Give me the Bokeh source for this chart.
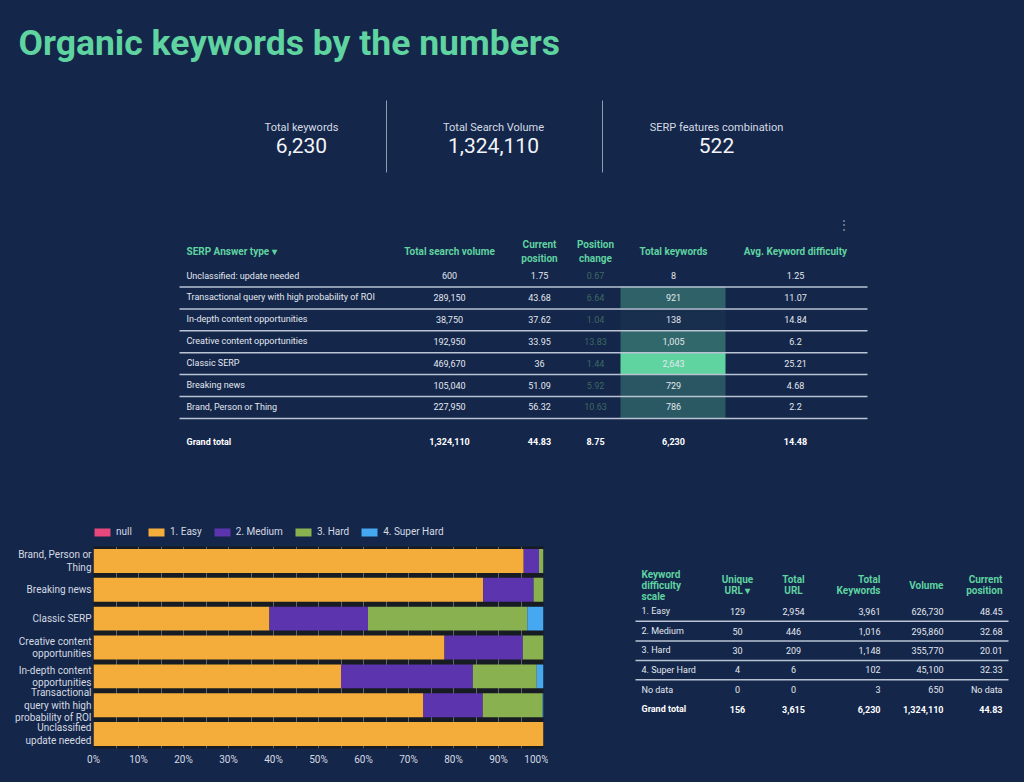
from bokeh.plotting import figure
from bokeh.layouts import column, row
from bokeh.models import (Range1d, ColumnDataSource, FactorRange, Legend, LegendItem,
                          FixedTicker, PrintfTickFormatter, GlobalInlineStyleSheet)
from bokeh.core.properties import value
from bokeh.embed import file_html
from bokeh.resources import INLINE

# ---------------- data ----------------
title_text = "Organic keywords by the numbers"

kpi_labels = ["Total keywords", "Total Search Volume", "SERP features combination"]
kpi_values = [6230, 1324110, 522]

serp_header = ["SERP Answer type \u25be", "Total search volume", "Current\nposition",
               "Position\nchange", "Total keywords", "Avg. Keyword difficulty"]
serp_types = ["Unclassified: update needed",
              "Transactional query with high probability of ROI",
              "In-depth content opportunities",
              "Creative content opportunities",
              "Classic SERP",
              "Breaking news",
              "Brand, Person or Thing"]
search_volume = [600, 289150, 38750, 192950, 469670, 105040, 227950]
current_position = [1.75, 43.68, 37.62, 33.95, 36.0, 51.09, 56.32]
position_change = [0.67, 6.64, 1.04, 13.83, 1.44, 5.92, 10.63]
total_keywords = [8, 921, 138, 1005, 2643, 729, 786]
avg_kd = [1.25, 11.07, 14.84, 6.2, 25.21, 4.68, 2.2]
serp_grand_total = ["Grand total", 1324110, 44.83, 8.75, 6230, 14.48]

bar_categories = ["Brand, Person or\nThing", "Breaking news", "Classic SERP",
                  "Creative content\nopportunities", "In-depth content\nopportunities",
                  "Transactional\nquery with high\nprobability of ROI",
                  "Unclassified\nupdate needed"]
series_names = ["null", "1. Easy", "2. Medium", "3. Hard", "4. Super Hard"]
share_null = [0, 0, 0, 0, 0, 0, 0]
share_easy = [95.6, 86.6, 39.1, 78.0, 55.0, 73.3, 100.0]
share_medium = [3.4, 11.2, 21.9, 17.4, 29.3, 13.2, 0.0]
share_hard = [1.0, 2.2, 35.4, 4.6, 14.2, 13.3, 0.0]
share_super_hard = [0.0, 0.0, 3.6, 0.0, 1.5, 0.2, 0.0]
x_ticks = [0, 10, 20, 30, 40, 50, 60, 70, 80, 90, 100]

kd_header = ["Keyword\ndifficulty\nscale", "Unique\nURL \u25be", "Total\nURL",
             "Total\nKeywords", "Volume", "Current\nposition"]
kd_scale = ["1. Easy", "2. Medium", "3. Hard", "4. Super Hard", "No data"]
unique_url = [129, 50, 30, 4, 0]
total_url = [2954, 446, 209, 6, 0]
kd_keywords = [3961, 1016, 1148, 102, 3]
kd_volume = [626730, 295860, 355770, 45100, 650]
kd_position = [48.45, 32.68, 20.01, 32.33, None]
kd_grand_total = ["Grand total", 156, 3615, 6230, 1324110, 44.83]

# ---------------- style ----------------
BG = "#14264a"
MINT = "#5fd3a0"
TXT = "#e3e8ef"
DIM = "#3d6a60"
SEP = "#b9c3d3"
FONT = "Roboto"
BAR_COLORS = ["#e5497c", "#f4ac3b", "#5c35ae", "#8ab14f", "#45a8f0"]


def fmt(v):
    if v is None:
        return "No data"
    if isinstance(v, str):
        return v
    if isinstance(v, int):
        return f"{v:,}"
    return f"{v:,.2f}".rstrip("0").rstrip(".")


def put(fig, xs, ys, texts, size, color, align="left", bold=False, lh=1.2):
    src = ColumnDataSource(dict(x=xs, y=ys, t=[fmt(t) for t in texts]))
    fig.text("x", "y", text="t", source=src, text_font=value(FONT),
             text_font_size=f"{size}px", text_color=color, text_align=align,
             text_baseline="middle", text_font_style="bold" if bold else "normal",
             text_line_height=lh)


def canvas(w, h, x0, y0):
    f = figure(width=w, height=h, x_range=Range1d(x0, x0 + w), y_range=Range1d(y0 + h, y0),
               output_backend="svg", toolbar_location=None, min_border=0, title=None,
               x_axis_location=None, y_axis_location=None)
    f.grid.visible = False
    f.background_fill_color = BG
    f.border_fill_color = BG
    f.outline_line_color = None
    return f


def mix(c1, c2, t):
    a = [int(c1[i:i + 2], 16) for i in (1, 3, 5)]
    b = [int(c2[i:i + 2], 16) for i in (1, 3, 5)]
    return "#" + "".join(f"{round(x + (y - x) * t):02x}" for x, y in zip(a, b))


TOP_H = 541

# ---------------- top part ----------------
top = canvas(1024, TOP_H, 0, 0)
put(top, [18], [42], [title_text], 35.5, MINT, bold=True)

kpi_x = [301, 493, 716]
put(top, kpi_x, [127] * 3, kpi_labels, 11, "#d6dce5", align="center")
put(top, kpi_x, [145] * 3, kpi_values, 21, "#f2f4f7", align="center")
top.segment(x0=[386, 602], y0=[100, 100], x1=[386, 602], y1=[172, 172],
            line_color="#8f9bb0", line_width=1)

n = len(serp_types)
row_y = [275 + i * 21.9 for i in range(n)]
kmax = max(total_keywords)
heat = [mix(BG, MINT, k / kmax) for k in total_keywords]
top.quad(left=[620] * n, right=[725] * n, top=[y - 11 for y in row_y],
         bottom=[y + 11 for y in row_y], fill_color=heat, line_color=None)
top.segment(x0=[179] * n, y0=[y + 11.5 for y in row_y], x1=[867] * n,
            y1=[y + 11.5 for y in row_y], line_color=SEP, line_width=1.5)

col_x = [186, 449, 539, 595, 673, 795]
put(top, [col_x[0]], [251], [serp_header[0]], 10, MINT, bold=True)
put(top, col_x[1:], [251] * 5, serp_header[1:], 10, MINT, align="center", bold=True)
put(top, [186] * n, row_y, serp_types, 9, TXT)
put(top, [col_x[1]] * n, row_y, search_volume, 9, TXT, align="center")
put(top, [col_x[2]] * n, row_y, current_position, 9, TXT, align="center")
put(top, [col_x[3]] * n, row_y, position_change, 9, DIM, align="center")
put(top, [col_x[4]] * n, row_y, total_keywords, 9, TXT, align="center")
put(top, [col_x[5]] * n, row_y, avg_kd, 9, TXT, align="center")
put(top, [col_x[0]], [441], serp_grand_total[:1], 9, "#ffffff", bold=True)
put(top, col_x[1:], [441] * 5, serp_grand_total[1:], 9, "#ffffff", align="center", bold=True)
put(top, [843], [224], ["\u22ee"], 12, "#8c97a8", align="center")

# legend of the bar chart (sits just above the chart, inside the top canvas);
# its swatches come from zero-size helper glyphs in the series colours
swatches = [top.rect(x=[0], y=[0], width=0, height=0, fill_color=c, line_color=None)
            for c in BAR_COLORS]
legend = Legend(items=[LegendItem(label=nm, renderers=[r]) for nm, r in zip(series_names, swatches)],
                orientation="horizontal", location=(92, 4), glyph_width=20, glyph_height=10,
                label_standoff=4, spacing=10, padding=0, margin=0,
                label_text_font=FONT, label_text_font_size="10px", label_text_color="#d5dae2",
                background_fill_alpha=0, border_line_color=None)
top.add_layout(legend)

# ---------------- stacked bar chart ----------------
src = ColumnDataSource(dict(cat=bar_categories, null=share_null, easy=share_easy,
                            medium=share_medium, hard=share_hard, superhard=share_super_hard))
bar = figure(width=548, height=226, y_range=FactorRange(*bar_categories[::-1]),
             x_range=Range1d(0, 100), output_backend="svg", toolbar_location=None,
             title=None, min_border_left=93)
bar.background_fill_color = "#171b22"
bar.border_fill_color = BG
bar.outline_line_color = None
bar.hbar_stack(["null", "easy", "medium", "hard", "superhard"], y="cat", height=0.83,
               color=BAR_COLORS, source=src, line_color=None)
bar.xgrid.ticker = FixedTicker(ticks=list(range(0, 101, 5)))
bar.xgrid.grid_line_color = "#5d6572"
bar.ygrid.grid_line_color = None
bar.xaxis.ticker = FixedTicker(ticks=x_ticks)
bar.xaxis.formatter = PrintfTickFormatter(format="%d%%")
for ax in (bar.xaxis[0], bar.yaxis[0]):
    ax.axis_line_color = None
    ax.major_tick_line_color = None
    ax.minor_tick_line_color = None
    ax.major_tick_out = 0
    ax.major_tick_in = 0
    ax.minor_tick_out = 0
    ax.major_label_text_font = FONT
    ax.major_label_text_font_size = "10px"
    ax.major_label_text_color = "#d5dae2"
bar.xaxis[0].major_label_standoff = 5
bar.yaxis[0].major_label_standoff = 2
bar.yaxis[0].major_label_text_line_height = 1.15

# ---------------- difficulty table ----------------
tbl = canvas(476, 782 - TOP_H, 548, TOP_H)
m = len(kd_scale)
kd_y = [613, 635, 656.5, 678, 700]
tbl.segment(x0=[635] * 4, y0=[y + 11 for y in kd_y[:4]], x1=[1008] * 4,
            y1=[y + 11 for y in kd_y[:4]], line_color=SEP, line_width=1.5)
kx = [641, 737, 793, 880, 943, 1002]
kal = ["left", "center", "center", "right", "right", "right"]
put(tbl, [kx[0]], [584], kd_header[:1], 10, MINT, bold=True, lh=1.0)
for i in range(1, 6):
    put(tbl, [kx[i]], [584], [kd_header[i]], 10, MINT, align=kal[i], bold=True, lh=1.05)
cols = [kd_scale, unique_url, total_url, kd_keywords, kd_volume, kd_position]
for i in range(6):
    put(tbl, [kx[i]] * m, kd_y, cols[i], 9, TXT, align=kal[i])
    put(tbl, [kx[i]], [722], [kd_grand_total[i]], 9, "#ffffff", align=kal[i], bold=True)

layout = column(top, row(bar, tbl))
layout.stylesheets = [GlobalInlineStyleSheet(css="html, body { background-color: #14264a; }")]

open("out.html", "w").write(file_html(layout, INLINE, title=title_text))
